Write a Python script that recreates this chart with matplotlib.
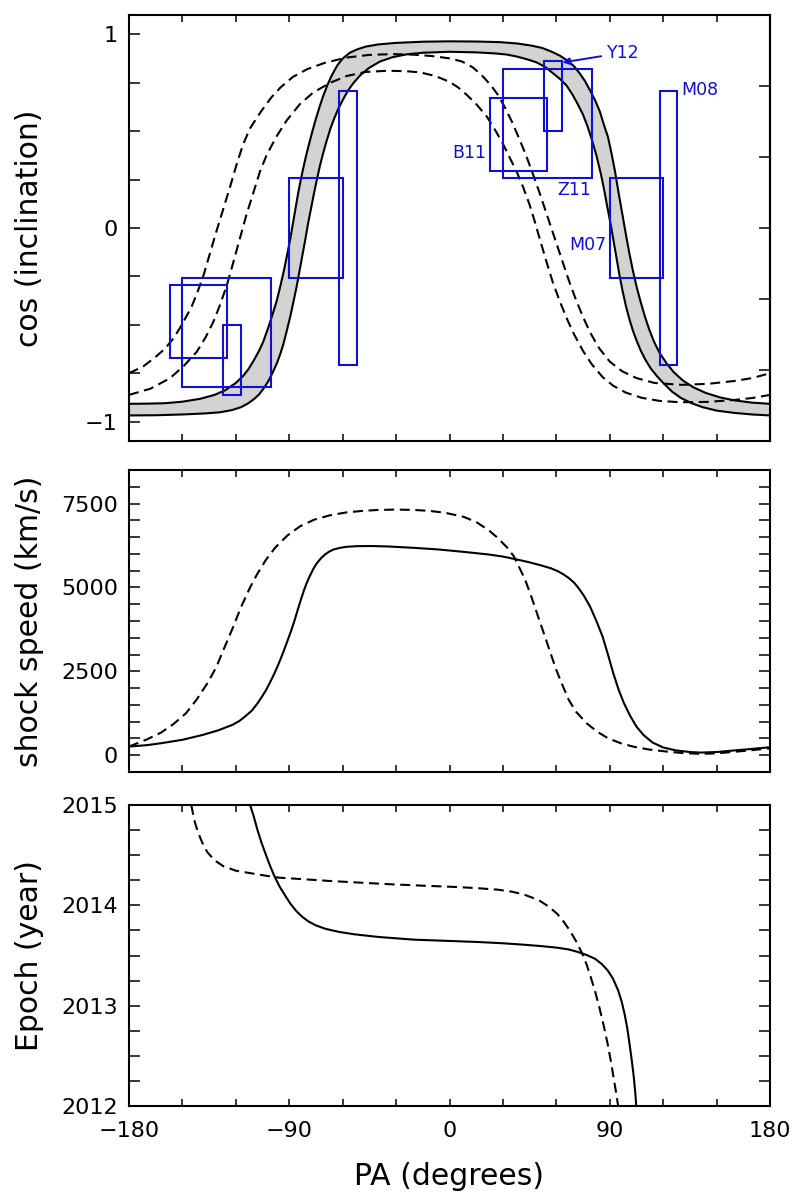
import numpy as np
import matplotlib
matplotlib.use("Agg")
import matplotlib.pyplot as plt
from matplotlib.patches import Rectangle
from matplotlib.ticker import MultipleLocator, FixedLocator

plt.rcParams['font.family'] = ['DejaVu Sans']

# ---------------- data ----------------
# Top panel: model curves cos(inclination) vs PA (solid pair bounds the grey band)
pa_a = [-180, -170, -160, -150, -140, -132, -126, -120, -116, -113, -110, -107, -104.6, -102,
        -99.5, -97, -95, -93, -91, -89.5, -88, -86.5, -85, -83.5, -82, -80.5, -79, -77, -75, -73,
        -71, -68.5, -66, -63, -60, -56, -52, -47, -40, -30, -15, 0, 15, 28, 38, 46, 52, 57, 62,
        66, 70, 73, 76, 79, 82, 84.5, 87, 89, 91, 93, 95, 97, 99, 101, 103, 105, 107, 109.5, 112,
        115, 118, 122, 126, 131, 137, 144, 152, 160, 170, 180]
cos_a = [-0.908, -0.907, -0.905, -0.897, -0.882, -0.862, -0.838, -0.80, -0.765, -0.73, -0.685,
         -0.635, -0.587, -0.52, -0.45, -0.375, -0.30, -0.22, -0.13, -0.06, 0.02, 0.10, 0.18, 0.25,
         0.315, 0.375, 0.43, 0.50, 0.565, 0.625, 0.68, 0.74, 0.79, 0.84, 0.875, 0.905, 0.922,
         0.937, 0.948, 0.956, 0.962, 0.964, 0.963, 0.96, 0.953, 0.942, 0.93, 0.912, 0.89, 0.866,
         0.835, 0.80, 0.76, 0.71, 0.655, 0.60, 0.525, 0.47, 0.385, 0.29, 0.18, 0.075, -0.03, -0.13,
         -0.22, -0.30, -0.37, -0.45, -0.52, -0.59, -0.645, -0.70, -0.745, -0.787, -0.823, -0.852,
         -0.875, -0.89, -0.902, -0.908]
pa_b = [-180, -165, -150, -138, -129, -122, -117, -113, -110, -107, -104.5, -102, -99.5, -97, -95,
        -93.3, -91.5, -89.5, -87.5, -85.8, -84.2, -82.6, -81, -79.5, -78, -76.3, -74.6, -72.8, -71,
        -69, -67, -65, -62.5, -60, -57, -54, -50, -45, -39, -32, -24, -15, 0, 15, 25, 32, 38, 44,
        49, 54, 58, 62, 65.8, 69, 72, 75, 77.5, 80, 82.5, 85, 87, 88.8, 90.5, 92.2, 93.9, 95.5,
        97.2, 99, 101, 103, 105, 107.5, 110, 113, 116.5, 120, 125, 130, 136, 142, 150, 160, 170,
        180]
cos_b = [-0.968, -0.967, -0.963, -0.958, -0.952, -0.94, -0.925, -0.905, -0.885, -0.86, -0.83,
         -0.795, -0.75, -0.70, -0.65, -0.60, -0.535, -0.46, -0.375, -0.30, -0.22, -0.14, -0.06,
         0.02, 0.09, 0.17, 0.245, 0.32, 0.385, 0.45, 0.51, 0.56, 0.615, 0.66, 0.71, 0.748, 0.79,
         0.828, 0.86, 0.882, 0.897, 0.905, 0.91, 0.907, 0.902, 0.896, 0.885, 0.87, 0.855, 0.83,
         0.80, 0.77, 0.735, 0.69, 0.64, 0.585, 0.525, 0.455, 0.375, 0.28, 0.19, 0.10, 0.02, -0.07,
         -0.16, -0.245, -0.325, -0.40, -0.47, -0.53, -0.58, -0.635, -0.68, -0.725, -0.765, -0.80,
         -0.845, -0.878, -0.905, -0.925, -0.943, -0.955, -0.963, -0.968]
pa_d1 = [-180, -172, -165, -160, -155, -151, -148, -145, -141.5, -138, -134.5, -131, -127, -123,
         -119.5, -116, -112, -106, -100, -95, -88, -80, -70, -58, -45, -32, -20, -10, 0, 7, 13, 18,
         23, 27, 31, 35, 39, 43, 47, 51, 55, 59, 63, 67, 71, 75, 79, 84, 90, 97, 105, 115, 130, 145,
         160, 170, 180]
cos_d1 = [-0.75, -0.715, -0.665, -0.625, -0.57, -0.51, -0.46, -0.41, -0.33, -0.24, -0.13, -0.02,
          0.10, 0.22, 0.33, 0.43, 0.515, 0.60, 0.675, 0.725, 0.78, 0.82, 0.853, 0.88, 0.894, 0.898,
          0.895, 0.888, 0.876, 0.86, 0.83, 0.79, 0.74, 0.69, 0.625, 0.55, 0.465, 0.375, 0.275,
          0.17, 0.06, -0.05, -0.16, -0.27, -0.37, -0.46, -0.54, -0.62, -0.69, -0.74, -0.775, -0.80,
          -0.81, -0.805, -0.79, -0.775, -0.75]
pa_d2 = [-180, -168, -157, -149, -142, -137, -132.6, -129, -125, -121.5, -117.7, -114, -110,
         -106.5, -102.7, -97, -91.4, -84, -76.5, -67, -57.7, -47, -35, -25, -16.6, -8, 0, 5, 10, 15,
         21, 26, 30, 34, 38, 41.4, 45, 48, 50.8, 54, 58, 62, 66, 70, 75, 80, 86, 92, 99, 108, 118,
         130, 145, 160, 170, 180]
cos_d2 = [-0.862, -0.83, -0.776, -0.71, -0.64, -0.565, -0.484, -0.40, -0.294, -0.18, -0.053, 0.07,
          0.187, 0.29, 0.377, 0.475, 0.556, 0.64, 0.70, 0.75, 0.785, 0.806, 0.812, 0.81, 0.804,
          0.785, 0.755, 0.725, 0.685, 0.64, 0.575, 0.50, 0.435, 0.36, 0.285, 0.21, 0.12, 0.03,
          -0.06, -0.16, -0.28, -0.38, -0.47, -0.55, -0.635, -0.705, -0.77, -0.815, -0.85, -0.877,
          -0.893, -0.90, -0.898, -0.888, -0.878, -0.862]

# Observational constraints (PA range, cos(i) range); each also drawn at PA-180, -cos(i)
box_names = ['B11', 'Z11', 'Y12', 'M07', 'M08']
box_pa_lo = [23, 30, 53, 90, 118]
box_pa_hi = [55, 80, 63, 120, 128]
box_cos_lo = [0.295, 0.26, 0.50, -0.26, -0.71]
box_cos_hi = [0.67, 0.82, 0.865, 0.26, 0.71]

# Middle panel: shock speed (km/s)
pa_vs = [-180, -170, -162, -150, -138.6, -130, -122, -118, -114.9, -111, -107.8, -105.5, -103,
         -100.7, -98.3, -96, -93.6, -91.2, -88.8, -87, -85.3, -83.5, -81.7, -80, -78.2, -76.4,
         -74.6, -72.2, -69.9, -67.5, -65.1, -61.5, -58, -52, -44, -34, -20, -6, 8, 22, 30, 37, 44,
         51, 57, 61, 64, 67, 70, 72.5, 75.5, 79, 82.5, 86, 89, 92, 95, 98, 101.5, 105, 109, 114,
         120, 127, 135, 141, 150, 157, 168, 180]
v_solid = [258, 300, 357, 460, 605, 740, 903, 1020, 1151, 1330, 1548, 1730, 1944, 2180, 2440,
           2720, 3036, 3380, 3730, 4020, 4325, 4630, 4920, 5160, 5367, 5560, 5714, 5870, 5982,
           6070, 6131, 6180, 6210, 6230, 6235, 6220, 6180, 6131, 6060, 5982, 5920, 5843, 5760,
           5664, 5570, 5480, 5390, 5280, 5140, 4980, 4750, 4424, 4000, 3532, 3000, 2440, 1950,
           1548, 1170, 853, 600, 380, 230, 145, 95, 79, 95, 129, 180, 238]
pa_vd = [-180, -170, -162, -155, -148, -142, -136, -131, -127, -122, -117, -112, -108, -103, -98,
         -91, -84, -76, -67, -58, -49, -40, -30, -20, -11, -2, 8, 15, 22, 27, 32, 36, 39, 42.5, 46,
         49.5, 53, 56.5, 60, 63.5, 67, 71, 77, 83, 89, 96, 103, 112, 122, 131, 141, 150, 157, 168,
         180]
v_dash = [258, 470, 675, 930, 1250, 1660, 2143, 2620, 3135, 3760, 4424, 5000, 5400, 5830, 6180,
          6550, 6820, 7020, 7152, 7235, 7281, 7310, 7321, 7310, 7281, 7220, 7103, 6950, 6706,
          6480, 6210, 5940, 5615, 5230, 4722, 4170, 3631, 3080, 2540, 2080, 1647, 1300, 952, 700,
          506, 360, 258, 170, 109, 65, 40, 55, 89, 140, 208]

# Bottom panel: epoch (year)
pa_es = [-112, -110, -107.8, -105.5, -103, -100.7, -98.3, -95.5, -92.4, -89.5, -86.4, -83, -79.3,
         -75, -69.9, -62, -53.3, -40, -20.1, 0, 15.4, 30, 41.4, 52, 60.4, 67, 72.2, 77, 81.7,
         85.5, 88.8, 91.8, 94.7, 96.7, 98.3, 99.8, 101.1, 102.4, 103.5, 104.3, 104.9]
ep_solid = [2015.0, 2014.89, 2014.748, 2014.62, 2014.498, 2014.39, 2014.289, 2014.19, 2014.10,
            2014.02, 2013.95, 2013.89, 2013.84, 2013.80, 2013.767, 2013.735, 2013.711, 2013.685,
            2013.658, 2013.645, 2013.635, 2013.622, 2013.608, 2013.593, 2013.578, 2013.56,
            2013.535, 2013.505, 2013.468, 2013.415, 2013.352, 2013.27, 2013.153, 2013.04,
            2012.92, 2012.78, 2012.621, 2012.45, 2012.289, 2012.14, 2012.0]
pa_ed = [-145, -143.5, -141.5, -139, -136, -132, -127, -120, -110, -103, -95.9, -80, -67.5, -50,
         -32, -15, 3.5, 15, 27.2, 35, 41.4, 46, 50.9, 55.5, 60.4, 64, 67.5, 71, 74.6, 77, 79.3,
         81.8, 84.1, 86.5, 88.8, 90.7, 92.4, 93.7, 94.7]
ep_dash = [2015.0, 2014.86, 2014.74, 2014.63, 2014.53, 2014.45, 2014.39, 2014.345, 2014.315,
           2014.295, 2014.276, 2014.258, 2014.243, 2014.226, 2014.209, 2014.196, 2014.183,
           2014.172, 2014.156, 2014.136, 2014.11, 2014.08, 2014.043, 2013.99, 2013.917, 2013.84,
           2013.751, 2013.645, 2013.518, 2013.41, 2013.286, 2013.14, 2012.987, 2012.81, 2012.621,
           2012.44, 2012.256, 2012.12, 2012.0]

xticks = [-180, -90, 0, 90, 180]
xticklabels = ['\u2212180', '\u221290', '0', '90', '180']

# ---------------- figure ----------------
W, H = 793, 1195
fig = plt.figure(figsize=(W / 100, H / 100), dpi=100)
left = 129 / W
width = 641 / W


def make_ax(top_px, bot_px):
    return fig.add_axes([left, 1 - bot_px / H, width, (bot_px - top_px) / H])


ax1 = make_ax(15, 441)
ax2 = make_ax(470, 772)
ax3 = make_ax(805, 1106)

blue = '#1010d0'
lw = 1.5
dash = (0, (4.8, 2.7))
tick_fs = 16
label_fs = 21.5


def style(ax):
    for s in ax.spines.values():
        s.set_linewidth(1.5)
    ax.set_xlim(-180, 180)
    ax.xaxis.set_major_locator(FixedLocator(xticks))
    ax.xaxis.set_minor_locator(MultipleLocator(30))
    ax.tick_params(axis='x', which='both', direction='in', top=True, bottom=True,
                   length=5, width=1.1, labelsize=tick_fs, pad=11)
    ax.tick_params(axis='y', which='both', direction='in', left=True, right=True,
                   length=8, width=1.1, labelsize=tick_fs, pad=8)


# --- top panel ---
ax1.fill(np.concatenate([pa_a, pa_b[::-1]]), np.concatenate([cos_a, cos_b[::-1]]),
         color='#d3d3d3', lw=0, zorder=1)
ax1.plot(pa_a, cos_a, color='black', lw=lw, zorder=3)
ax1.plot(pa_b, cos_b, color='black', lw=lw, zorder=3)
ax1.plot(pa_d1, cos_d1, color='black', lw=lw, ls=dash, zorder=3)
ax1.plot(pa_d2, cos_d2, color='black', lw=lw, ls=dash, zorder=3)
for lo, hi, clo, chi in zip(box_pa_lo, box_pa_hi, box_cos_lo, box_cos_hi):
    for sgn, off in ((1, 0), (-1, -180)):
        y0 = min(sgn * clo, sgn * chi)
        ax1.add_patch(Rectangle((lo + off, y0), hi - lo, abs(chi - clo), fill=False,
                                edgecolor=blue, lw=1.5, zorder=4))
ax1.set_ylim(-1.1, 1.1)
style(ax1)
ax1.yaxis.set_major_locator(FixedLocator([-1, 0, 1]))
ax1.yaxis.set_minor_locator(MultipleLocator(0.25))
ax1.tick_params(axis='y', which='both', right=False)
ax1.set_yticklabels(['\u22121', '0', '1'])
ax1.tick_params(axis='x', labelbottom=False)
sec = ax1.secondary_yaxis('right')
sec.set_yticks(np.linspace(-1.1, 1.1, 7)[1:-1])
sec.tick_params(axis='y', direction='in', length=8, width=1.1, labelright=False)
sec.spines['right'].set_linewidth(1.5)
ax1.set_ylabel('cos (inclination)', fontsize=label_fs)

fs_lab = 12.5
ax1.text(20.5, 0.387, 'B11', color=blue, fontsize=fs_lab, ha='right', va='center', zorder=5)
ax1.text(60.4, 0.196, 'Z11', color=blue, fontsize=fs_lab, ha='left', va='center', zorder=5)
ax1.text(67.1, -0.088, 'M07', color=blue, fontsize=fs_lab, ha='left', va='center', zorder=5)
ax1.text(130.2, 0.712, 'M08', color=blue, fontsize=fs_lab, ha='left', va='center', zorder=5)
ax1.annotate('Y12', xy=(63.4, 0.855), xytext=(88.3, 0.905), color=blue, fontsize=fs_lab,
             ha='left', va='center', zorder=5,
             arrowprops=dict(arrowstyle='-|>', color=blue, lw=1.4, mutation_scale=10,
                             shrinkA=2, shrinkB=0))

# --- middle panel ---
ax2.plot(pa_vs, v_solid, color='black', lw=lw)
ax2.plot(pa_vd, v_dash, color='black', lw=lw, ls=dash)
ax2.set_ylim(-500, 8500)
style(ax2)
ax2.yaxis.set_major_locator(FixedLocator([0, 2500, 5000, 7500]))
ax2.yaxis.set_minor_locator(MultipleLocator(500))
ax2.tick_params(axis='x', labelbottom=False)
ax2.set_ylabel('shock speed (km/s)', fontsize=label_fs)

# --- bottom panel ---
ax3.plot(pa_es, ep_solid, color='black', lw=lw)
ax3.plot(pa_ed, ep_dash, color='black', lw=lw, ls=dash)
ax3.set_ylim(2012, 2015)
style(ax3)
ax3.yaxis.set_major_locator(FixedLocator([2012, 2013, 2014, 2015]))
ax3.yaxis.set_minor_locator(MultipleLocator(0.25))
ax3.set_xticklabels(xticklabels)
ax3.set_ylabel('Epoch (year)', fontsize=label_fs)
ax3.set_xlabel('PA (degrees)', fontsize=label_fs, labelpad=15)

for ax in (ax1, ax2, ax3):
    ax.yaxis.set_label_coords(-0.132, 0.5)

fig.savefig('out.png', dpi=100)
